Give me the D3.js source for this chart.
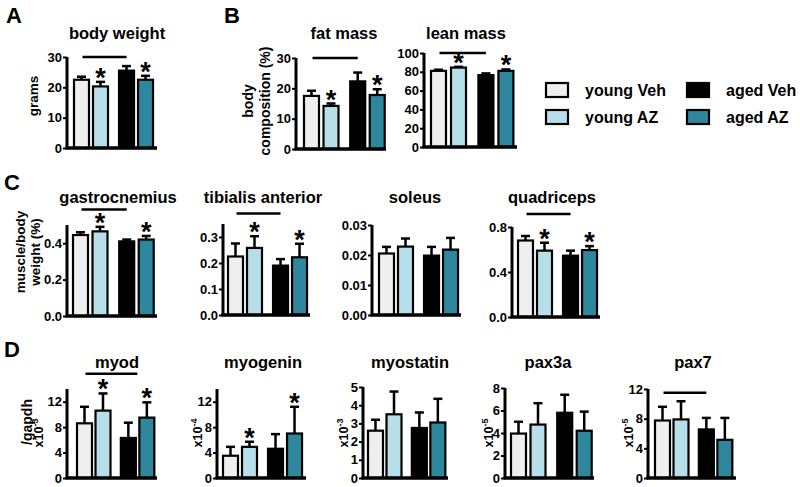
<!DOCTYPE html>
<html><head><meta charset="utf-8">
<script src="https://cdn.jsdelivr.net/npm/d3@7"></script>
<style>
html,body{margin:0;padding:0;background:#fff;}
svg{display:block;font-family:"Liberation Sans",Arial,Helvetica,sans-serif;font-weight:bold;}
</style></head>
<body>
<svg id="chart" width="800" height="487"></svg>
<script>
// ---------- data ----------
const groups = ["young Veh", "young AZ", "aged Veh", "aged AZ"];
const groupColors = ["#efefef", "#b7dfe9", "#000000", "#2f879e"];

const bodyWeight    = [22.5, 20.3, 25.5, 22.5];
const bodyWeightSem = [1.0, 1.5, 1.5, 1.3];
const fatMass       = [17.5, 14.2, 22.3, 17.8];
const fatMassSem    = [1.7, 0.8, 2.9, 1.9];
const leanMass      = [81, 84.5, 76.5, 81];
const leanMassSem   = [1.2, 0.8, 1.8, 1.5];
const gastrocnemius    = [0.445, 0.465, 0.41, 0.42];
const gastrocnemiusSem = [0.015, 0.025, 0.01, 0.02];
const tibialis      = [0.225, 0.258, 0.19, 0.222];
const tibialisSem   = [0.05, 0.045, 0.025, 0.052];
const soleus        = [0.0205, 0.0228, 0.0198, 0.0218];
const soleusSem     = [0.0022, 0.0027, 0.0029, 0.0039];
const quadriceps    = [0.68, 0.59, 0.545, 0.595];
const quadricepsSem = [0.04, 0.07, 0.045, 0.035];
const myod          = [8.6, 10.6, 6.3, 9.5];
const myodSem       = [2.6, 2.7, 2.4, 2.4];
const myogenin      = [3.5, 4.9, 4.6, 7.0];
const myogeninSem   = [1.4, 0.8, 2.3, 4.2];
const myostatin     = [2.6, 3.5, 2.75, 3.05];
const myostatinSem  = [0.6, 1.25, 0.85, 1.3];
const pax3a         = [3.95, 4.75, 5.8, 4.2];
const pax3aSem      = [1.05, 1.9, 1.6, 1.7];
const pax7          = [7.75, 7.9, 6.55, 5.15];
const pax7Sem       = [1.85, 2.45, 1.55, 2.95];

const ticksBW   = [0, 10, 20, 30];
const ticksLean = [0, 20, 40, 60, 80, 100];
const ticksGas  = [0, 0.2, 0.4];
const ticksTib  = [0, 0.1, 0.2, 0.3];
const ticksSol  = [0, 0.01, 0.02, 0.03];
const ticksQuad = [0, 0.4, 0.8];
const ticksMyod = [0, 4, 8, 12];
const ticksMyst = [0, 1, 2, 3, 4, 5];
const ticksPax3 = [0, 2, 4, 6, 8];

// ---------- layout ----------
const slots = [0, 1, 2.37, 3.37]; // bar slot index (pairs separated by a gap)
const barW = 15;

const panels = [
  {title:"body weight", v:bodyWeight, e:bodyWeightSem, ax:67, y0:148, yTop:57, max:30, ticks:ticksBW, fmt:"d", bx:74, pitch:19, end:157, tx:117, ty:39, stars:[1,3], sig:30},
  {title:"fat mass", v:fatMass, e:fatMassSem, ax:296, y0:149, yTop:58, max:30, ticks:ticksBW, fmt:"d", bx:304, pitch:19.5, end:386, tx:344, ty:39, stars:[1,3], sig:30},
  {title:"lean mass", v:leanMass, e:leanMassSem, ax:424, y0:147, yTop:53, max:100, ticks:ticksLean, fmt:"d", bx:431, pitch:20, end:517, tx:466, ty:39, stars:[1,3], sig:100},
  {title:"gastrocnemius", v:gastrocnemius, e:gastrocnemiusSem, ax:67, y0:316, yTop:225, max:0.5, ticks:ticksGas, fmt:".1f", bx:73, pitch:19.5, end:157, tx:118, ty:203, stars:[1,3], sig:0.585},
  {title:"tibialis anterior", v:tibialis, e:tibialisSem, ax:223, y0:315, yTop:224, max:0.35, ticks:ticksTib, fmt:".1f", bx:228, pitch:19, end:310, tx:263, ty:203, stars:[1,3], sig:0.39},
  {title:"soleus", v:soleus, e:soleusSem, ax:372, y0:315, yTop:225, max:0.03, ticks:ticksSol, fmt:".2f", bx:379, pitch:19, end:461, tx:415, ty:203, stars:[], sig:null},
  {title:"quadriceps", v:quadriceps, e:quadricepsSem, ax:512, y0:317, yTop:227, max:0.8, ticks:ticksQuad, fmt:".1f", bx:518, pitch:19, end:600, tx:552, ty:203, stars:[1,3], sig:0.915},
  {title:"myod", v:myod, e:myodSem, ax:67, y0:478, yTop:389, max:14, ticks:ticksMyod, fmt:"d", bx:77, pitch:18.5, end:157, tx:117, ty:368, stars:[1,3], sig:16.4, exp:"-3", expX:43},
  {title:"myogenin", v:myogenin, e:myogeninSem, ax:217, y0:478, yTop:389, max:14, ticks:ticksMyod, fmt:"d", bx:223, pitch:19, end:306, tx:263, ty:368, stars:[1,3], sig:null, exp:"-4", expX:202},
  {title:"myostatin", v:myostatin, e:myostatinSem, ax:363, y0:478, yTop:387, max:5, ticks:ticksMyst, fmt:"d", bx:368, pitch:18.5, end:448, tx:410, ty:368, stars:[], sig:null, exp:"-3", expX:348},
  {title:"pax3a", v:pax3a, e:pax3aSem, ax:505, y0:478, yTop:388, max:8, ticks:ticksPax3, fmt:"d", bx:511, pitch:19.5, end:594, tx:548, ty:368, stars:[], sig:null, exp:"-5", expX:493},
  {title:"pax7", v:pax7, e:pax7Sem, ax:648, y0:478, yTop:389, max:12, ticks:ticksMyod, fmt:"d", bx:655, pitch:18.5, end:736, tx:693, ty:368, stars:[], sig:11.5, exp:"-5", expX:633}
];

const svg = d3.select("#chart");

function drawPanel(p) {
  const g = svg.append("g");
  const y = d3.scaleLinear().domain([0, p.max]).range([p.y0, p.yTop]);
  const x = d3.scaleLinear().domain([0, 1]).range([p.bx, p.bx + p.pitch]);
  const data = groups.map((gname, i) => ({g: gname, i, v: p.v[i], e: p.e[i]}));

  // y axis
  const yAxis = d3.axisLeft(y).tickValues(p.ticks).tickFormat(d3.format(p.fmt)).tickSize(4).tickPadding(1);
  const ya = g.append("g").attr("transform", `translate(${p.ax},0)`).call(yAxis);
  ya.select(".domain").remove();
  ya.selectAll(".tick line").attr("stroke", "#000").attr("stroke-width", 2);
  ya.selectAll(".tick text").attr("fill", "#000").style("font-size", "13px").style("font-weight", "bold")
    .style("font-family", "'Liberation Sans',Arial,sans-serif");
  g.append("line").attr("x1", p.ax).attr("x2", p.ax).attr("y1", p.y0).attr("y2", p.yTop)
    .attr("stroke", "#000").attr("stroke-width", 3);

  // bars
  g.selectAll("rect.bar").data(data).join("rect").attr("class", "bar")
    .attr("x", d => x(slots[d.i])).attr("width", barW)
    .attr("y", d => y(d.v)).attr("height", d => p.y0 - y(d.v))
    .attr("fill", d => groupColors[d.i]).attr("stroke", "#000").attr("stroke-width", 2.2);

  // error bars
  g.selectAll("line.err").data(data).join("line").attr("class", "err")
    .attr("x1", d => x(slots[d.i]) + barW / 2).attr("x2", d => x(slots[d.i]) + barW / 2)
    .attr("y1", d => y(d.v)).attr("y2", d => y(d.v + d.e))
    .attr("stroke", "#000").attr("stroke-width", 2.5);
  g.selectAll("line.cap").data(data).join("line").attr("class", "cap")
    .attr("x1", d => x(slots[d.i]) + barW / 2 - 4.5).attr("x2", d => x(slots[d.i]) + barW / 2 + 4.5)
    .attr("y1", d => y(d.v + d.e)).attr("y2", d => y(d.v + d.e))
    .attr("stroke", "#000").attr("stroke-width", 2.5);

  // x axis line
  g.append("line").attr("x1", p.ax - 1.5).attr("x2", p.end).attr("y1", p.y0).attr("y2", p.y0)
    .attr("stroke", "#000").attr("stroke-width", 3.5);

  // stars
  g.selectAll("text.star").data(data.filter(d => p.stars.includes(d.i))).join("text").attr("class", "star")
    .attr("x", d => x(slots[d.i]) + barW / 2).attr("y", d => y(d.v + d.e) + 5)
    .attr("text-anchor", "middle").style("font-size", "27px").text("*");

  // significance line
  if (p.sig !== null) {
    const x1 = x(slots[0]) + barW / 2 + 1, x2 = x(slots[2]) + barW / 2 + (p.title === "myod" ? 9 : 0);
    g.append("line").attr("x1", x1).attr("x2", x2).attr("y1", y(p.sig)).attr("y2", y(p.sig))
      .attr("stroke", "#000").attr("stroke-width", 2.5);
  }

  // title
  g.append("text").attr("x", p.tx).attr("y", p.ty).attr("text-anchor", "middle")
    .style("font-size", "16.5px").text(p.title);

  // exponent label
  if (p.exp) {
    const cy = p.y0 - 45;
    const t = g.append("text").attr("transform", `translate(${p.expX},${cy}) rotate(-90)`)
      .attr("text-anchor", "middle").style("font-size", "12.5px");
    t.append("tspan").text("x10");
    t.append("tspan").attr("dy", -5).style("font-size", "9px").text(p.exp);
  }
}

panels.forEach(drawPanel);

// axis titles
function vLabel(x, y, txt, size) {
  svg.append("text").attr("transform", `translate(${x},${y}) rotate(-90)`)
    .attr("text-anchor", "middle").style("font-size", size + "px").text(txt);
}
vLabel(38, 96, "grams", 13.5);
vLabel(253, 101, "body", 14);
vLabel(270, 101, "composition (%)", 14);
vLabel(25, 252, "muscle/body", 13.5);
vLabel(40, 252, "weight (%)", 13.5);
vLabel(32, 422, "/gapdh", 14);

// panel letters
[["A", 6, 23], ["B", 224, 23], ["C", 4, 190], ["D", 4, 357]].forEach(([t, x, y]) => {
  svg.append("text").attr("x", x).attr("y", y).style("font-size", "22px").text(t);
});

// legend
const legendPos = [[546, 83], [546, 110], [687, 83], [687, 110]];
const lg = svg.append("g");
lg.selectAll("rect").data(groups).join("rect")
  .attr("x", (d, i) => legendPos[i][0]).attr("y", (d, i) => legendPos[i][1])
  .attr("width", 22).attr("height", 14)
  .attr("fill", (d, i) => groupColors[i]).attr("stroke", "#000").attr("stroke-width", 2.2);
lg.selectAll("text").data(groups).join("text")
  .attr("x", (d, i) => legendPos[i][0] + 39).attr("y", (d, i) => legendPos[i][1] + 12.5)
  .style("font-size", "16px").text(d => d);
</script>
</body></html>
